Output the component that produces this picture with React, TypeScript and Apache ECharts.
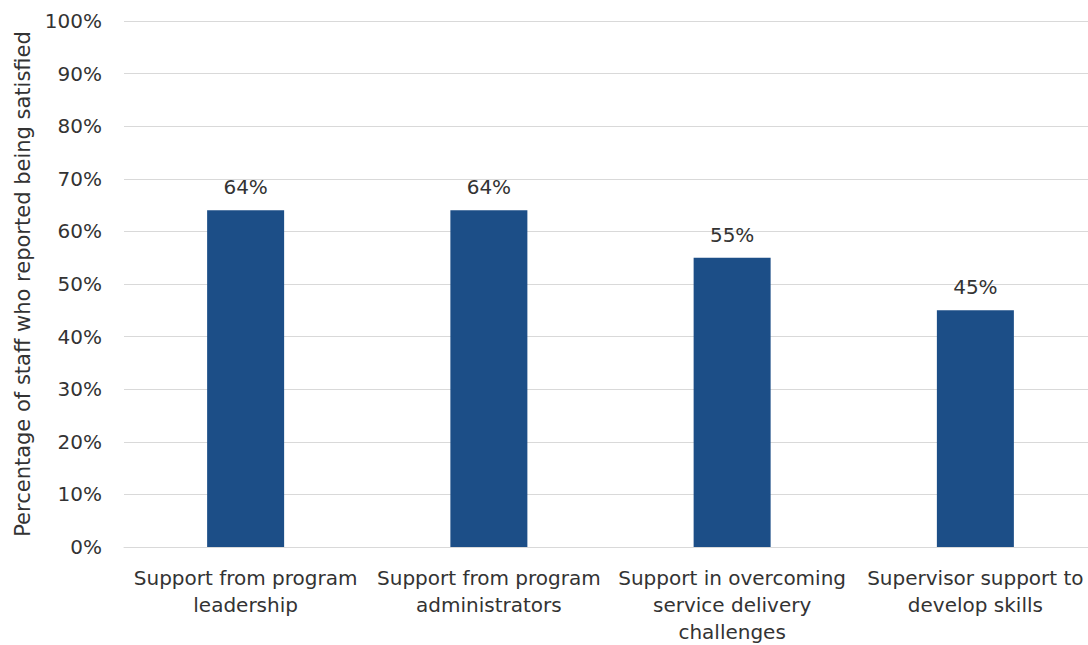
import React, { useEffect, useRef } from "react";
import * as echarts from "echarts";

const categories = [
  "Support from program\nleadership",
  "Support from program\nadministrators",
  "Support in overcoming\nservice delivery\nchallenges",
  "Supervisor support to\ndevelop skills",
];
const values = [64, 64, 55, 45];
const yTicks = [0, 10, 20, 30, 40, 50, 60, 70, 80, 90, 100];
const yAxisTitle = "Percentage of staff who reported being satisfied";

export default function App() {
  const ref = useRef<HTMLDivElement>(null);
  useEffect(() => {
    if (!ref.current) return;
    const chart = echarts.init(ref.current, undefined, { renderer: "svg" });
    const font = "'DejaVu Sans', Verdana, sans-serif";
    chart.setOption({
      animation: false,
      backgroundColor: "#ffffff",
      grid: { left: 124, right: 0, top: 21, bottom: 95, containLabel: false },
      xAxis: {
        type: "category",
        data: categories,
        axisLine: { show: true, lineStyle: { color: "#d9d9d9" } },
        axisTick: { show: false },
        axisLabel: {
          color: "#333333",
          fontFamily: font,
          fontSize: 20,
          lineHeight: 27,
          margin: 17,
          interval: 0,
        },
      },
      yAxis: {
        type: "value",
        min: yTicks[0],
        max: yTicks[yTicks.length - 1],
        interval: 10,
        name: yAxisTitle,
        nameLocation: "middle",
        nameGap: 91,
        nameTextStyle: { color: "#333333", fontFamily: font, fontSize: 21 },
        axisLine: { show: false },
        axisTick: { show: false },
        splitLine: { lineStyle: { color: "#d9d9d9", width: 1 } },
        axisLabel: {
          color: "#333333",
          fontFamily: font,
          fontSize: 20,
          margin: 22,
          formatter: (v: number) => `${v}%`,
        },
      },
      series: [
        {
          type: "bar",
          data: values,
          barWidth: 77,
          itemStyle: { color: "#1c4e87" },
          label: {
            show: true,
            position: "top",
            distance: 13,
            color: "#333333",
            fontFamily: font,
            fontSize: 20,
            formatter: (p: any) => `${p.value}%`,
          },
        },
      ],
    });
    return () => chart.dispose();
  }, []);
  return (
    <div
      style={{
        position: "fixed",
        left: 0,
        top: 0,
        width: 1088,
        height: 645,
        overflow: "hidden",
        background: "#fff",
      }}
    >
      <div ref={ref} style={{ width: 1097, height: 645 }} />
    </div>
  );
}
